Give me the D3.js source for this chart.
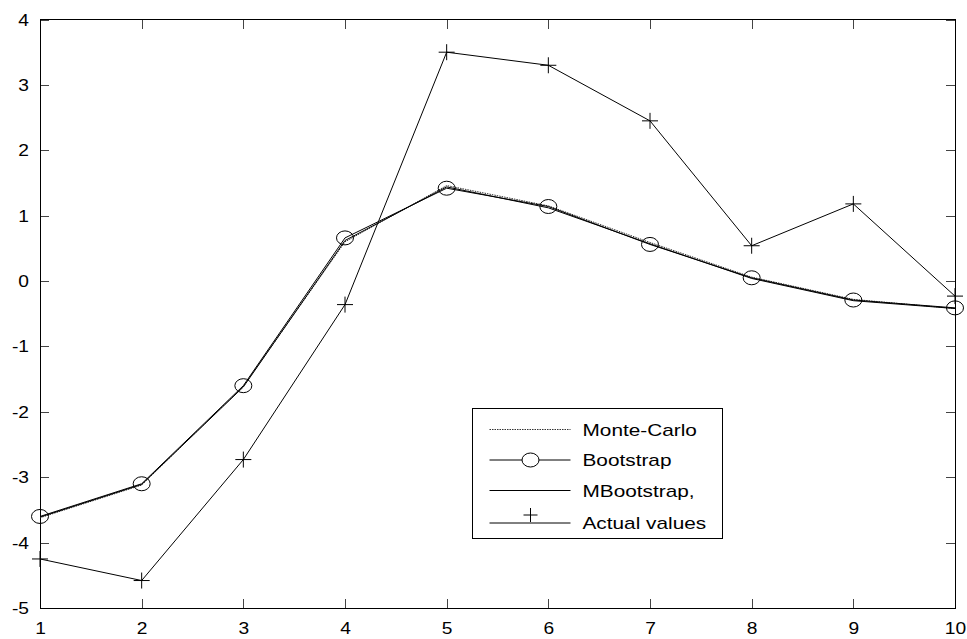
<!DOCTYPE html>
<html>
<head>
<meta charset="utf-8">
<script src="https://cdnjs.cloudflare.com/ajax/libs/d3/7.8.5/d3.min.js"></script>
<style>
    body { margin: 0; background: #fff; }
    svg { display: block; font-family: "Liberation Sans", Arial, sans-serif; }
</style>
</head>
<body>
<svg id="chart" width="967" height="639"></svg>
<script>
let steps = [1, 2, 3, 4, 5, 6, 7, 8, 9, 10];
let monteCarlo = [-3.62, -3.12, -1.61, 0.60, 1.46, 1.15, 0.59, 0.06, -0.28, -0.42];
let bootstrap = [-3.60, -3.10, -1.60, 0.66, 1.42, 1.14, 0.56, 0.05, -0.29, -0.41];
let mBootstrap = [-3.61, -3.11, -1.62, 0.62, 1.44, 1.12, 0.57, 0.04, -0.30, -0.42];
let actual = [-4.25, -4.58, -2.73, -0.36, 3.50, 3.30, 2.45, 0.54, 1.18, -0.23];
let yTicks = [-5, -4, -3, -2, -1, 0, 1, 2, 3, 4];
let legendNames = ["Monte-Carlo", "Bootstrap", "MBootstrap,", "Actual values"];

let svg = d3.select("#chart");
let box = {"left": 40, "right": 955, "top": 19.5, "bottom": 608};
let stretch = 1.2;

let x = d3.scaleLinear().domain([1, 10]).range([box.left, box.right]);
let y = d3.scaleLinear().domain([-5, 4]).range([box.bottom, box.top]);

// axes on all four sides, ticks pointing inward
let tickLen = 9;
let fmt = d => String(d);
let axes = [
    {axis: d3.axisBottom(x).tickValues(steps).tickFormat(fmt).tickSizeInner(-tickLen).tickSizeOuter(0), tr: "translate(0," + box.bottom + ")", side: "bottom"},
    {axis: d3.axisTop(x).tickValues(steps).tickSizeInner(-tickLen).tickSizeOuter(0), tr: "translate(0," + box.top + ")", side: "none"},
    {axis: d3.axisLeft(y).tickValues(yTicks).tickFormat(fmt).tickSizeInner(-tickLen).tickSizeOuter(0), tr: "translate(" + box.left + ",0)", side: "left"},
    {axis: d3.axisRight(y).tickValues(yTicks).tickSizeInner(-tickLen).tickSizeOuter(0), tr: "translate(" + box.right + ",0)", side: "none"}
];
axes.forEach(a => {
    let g = svg.append("g").attr("transform", a.tr).call(a.axis);
    g.select(".domain").remove();
    g.selectAll("line").attr("stroke", "#444").attr("shape-rendering", "crispEdges");
    let t = g.selectAll("text");
    if (a.side === "none") { t.remove(); return; }
    t.attr("font-size", 16).attr("fill", "#000")
        .attr("font-family", "Liberation Sans, Arial, sans-serif")
        .attr("x", null).attr("y", null).attr("dy", null);
    if (a.side === "bottom") {
        t.attr("transform", "translate(0,26) scale(" + stretch + ",1)");
    } else {
        t.attr("transform", "translate(-11,5.5) scale(" + stretch + ",1)");
    }
});

svg.append("rect")
    .attr("x", box.left).attr("y", box.top)
    .attr("width", box.right - box.left).attr("height", box.bottom - box.top)
    .attr("fill", "none").attr("stroke", "#000").attr("stroke-width", 1)
    .attr("shape-rendering", "crispEdges");

let line = d3.line().x((d, i) => x(steps[i])).y(d => y(d));

svg.append("path").datum(monteCarlo).attr("d", line)
    .attr("fill", "none").attr("stroke", "#333").attr("stroke-width", 1)
    .attr("stroke-dasharray", "1.5,1");
svg.append("path").datum(mBootstrap).attr("d", line)
    .attr("fill", "none").attr("stroke", "#000").attr("stroke-width", 1);
svg.append("path").datum(bootstrap).attr("d", line)
    .attr("fill", "none").attr("stroke", "#000").attr("stroke-width", 1);
svg.append("path").datum(actual).attr("d", line)
    .attr("fill", "none").attr("stroke", "#000").attr("stroke-width", 1);

svg.selectAll(".circ").data(bootstrap).enter().append("ellipse")
    .attr("class", "circ")
    .attr("cx", (d, i) => x(steps[i])).attr("cy", d => y(d))
    .attr("rx", 8.5).attr("ry", 7)
    .attr("fill", "none").attr("stroke", "#000").attr("stroke-width", 1);

let plus = (cx, cy, s) => "M" + (cx - s) + "," + cy + "H" + (cx + s) + "M" + cx + "," + (cy - s) + "V" + (cy + s);
svg.selectAll(".plus").data(actual).enter().append("path")
    .attr("class", "plus")
    .attr("d", (d, i) => plus(x(steps[i]), y(d), 8))
    .attr("fill", "none").attr("stroke", "#000").attr("stroke-width", 1);

// legend
let leg = {"x": 472.5, "y": 408.5, "w": 250, "h": 130, "row": 30.5, "first": 21};
let lg = svg.append("g");
lg.append("rect")
    .attr("x", leg.x).attr("y", leg.y).attr("width", leg.w).attr("height", leg.h)
    .attr("fill", "#fff").attr("stroke", "#000").attr("stroke-width", 1)
    .attr("shape-rendering", "crispEdges");

legendNames.forEach((name, i) => {
    let ly = leg.y + leg.first + i * leg.row;
    let lineY = i === 3 ? ly + 2 : ly;
    let seg = lg.append("line")
        .attr("x1", leg.x + 17).attr("x2", leg.x + 98)
        .attr("y1", lineY).attr("y2", lineY)
        .attr("stroke", i === 0 ? "#333" : "#000").attr("stroke-width", 1);
    if (i === 0) seg.attr("stroke-dasharray", "1.5,1");
    if (i === 1) {
        lg.append("ellipse").attr("cx", leg.x + 58).attr("cy", ly)
            .attr("rx", 8.5).attr("ry", 7)
            .attr("fill", "#fff").attr("stroke", "#000");
    }
    if (i === 3) {
        lg.append("path").attr("d", plus(leg.x + 58, ly - 6, 7))
            .attr("fill", "none").attr("stroke", "#000");
    }
    lg.append("text")
        .attr("transform", "translate(" + (leg.x + 110) + "," + (lineY + 6) + ") scale(1.3,1)")
        .attr("font-size", 16).attr("fill", "#000")
        .text(name);
});
</script>
</body>
</html>
